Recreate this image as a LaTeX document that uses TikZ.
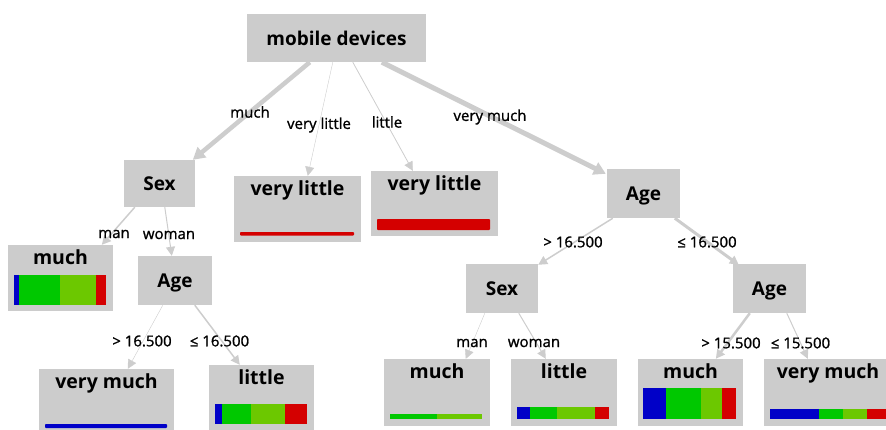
\documentclass[tikz,border=0pt]{standalone}
\usepackage{fontspec}
\setmainfont{Open Sans}
\newfontfamily\lblfont{Open Sans}[FakeBold=1.2]
\usetikzlibrary{arrows.meta,calc}
\definecolor{boxgray}{HTML}{CCCCCC}
\definecolor{edgegray}{HTML}{CDCDCD}
\definecolor{cblue}{HTML}{0000C8}
\definecolor{cgreen}{HTML}{00C800}
\definecolor{clgreen}{HTML}{6CC800}
\definecolor{cred}{HTML}{D40000}
\begin{document}
\begin{tikzpicture}[x=1pt,y=-1pt,
 box/.style={fill=boxgray, draw=none, inner sep=0pt, anchor=center},
 inner/.style={box, font=\fontsize{19}{19}\selectfont\bfseries, text height=14pt, text depth=0pt},
 ttl/.style={anchor=base, inner sep=0pt, font=\fontsize{19.5}{20}\selectfont\bfseries},
 lbl/.style={inner sep=0pt, anchor=center, font=\fontsize{15}{15}\lblfont},
 edge/.style={draw=edgegray, -{Triangle[length=9pt,width=9pt]}},
 bigedge/.style={draw=edgegray, -{Triangle[length=12pt,width=13pt]}},
 barseg/.style={rounded corners=0.8pt},
]
\useasboundingbox (0,0) rectangle (886,429);
\clip (0,0) rectangle (886,429);

% internal nodes
\node[inner, minimum width=179pt, minimum height=48pt] (root) at (336.5,38) {mobile devices};
\node[inner, minimum width=71pt, minimum height=47pt] (sexL) at (159.5,183.5) {Sex};
\node[inner, minimum width=73pt, minimum height=49pt] (ageR) at (643.5,193.5) {Age};
\node[inner, minimum width=74pt, minimum height=49pt] (ageL) at (175,280.5) {Age};
\node[inner, minimum width=72pt, minimum height=49pt] (sexR) at (502,288.5) {Sex};
\node[inner, minimum width=73pt, minimum height=49pt] (ageR2) at (769.5,288.5) {Age};

% leaves
\node[box, minimum width=127pt, minimum height=66pt] (vl1) at (297.5,209) {};
\node[ttl] at ($(vl1.north)+(0,20)$) {very little};
\node[box, minimum width=127pt, minimum height=65pt] (vl2) at (434.5,203.5) {};
\node[ttl] at ($(vl2.north)+(0,19.5)$) {very little};
\node[box, minimum width=105pt, minimum height=66pt] (muchL) at (60.5,278) {};
\node[ttl] at ($(muchL.north)+(0,20)$) {much};
\node[box, minimum width=135pt, minimum height=66pt] (vmL) at (106.5,402) {};
\node[ttl] at ($(vmL.north)+(0,20)$) {very much};
\node[box, minimum width=105pt, minimum height=66pt] (littleL) at (261.5,398) {};
\node[ttl] at ($(littleL.north)+(0,19.5)$) {little};
\node[box, minimum width=106pt, minimum height=67pt] (muchB) at (437,392.5) {};
\node[ttl] at ($(muchB.north)+(0,19.5)$) {much};
\node[box, minimum width=106pt, minimum height=67pt] (littleB) at (564,392.5) {};
\node[ttl] at ($(littleB.north)+(0,19.5)$) {little};
\node[box, minimum width=105pt, minimum height=67pt] (muchR) at (690.5,392.5) {};
\node[ttl] at ($(muchR.north)+(0,19.5)$) {much};
\node[box, minimum width=128pt, minimum height=67pt] (vmR) at (828,392.5) {};
\node[ttl] at ($(vmR.north)+(0,19.5)$) {very much};

% bars
\fill[cred,barseg] (240,232) rectangle (354,235.5);
\fill[cred,barseg] (377,219) rectangle (490,230);
\fill[cblue] (14,275) rectangle (19,305);
\fill[cgreen] (19,275) rectangle (60,305);
\fill[clgreen] (60,275) rectangle (96,305);
\fill[cred] (96,275) rectangle (106,305);
\fill[cblue,barseg] (45,424) rectangle (167,428);
\fill[cblue] (215,404) rectangle (222,424);
\fill[cgreen] (222,404) rectangle (251,424);
\fill[clgreen] (251,404) rectangle (285,424);
\fill[cred] (285,404) rectangle (307,424);
\fill[cgreen] (390,414) rectangle (437,419);
\fill[clgreen] (437,414) rectangle (482,419);
\fill[cblue] (517,407) rectangle (530,419);
\fill[cgreen] (530,407) rectangle (557,419);
\fill[clgreen] (557,407) rectangle (595,419);
\fill[cred] (595,407) rectangle (609,419);
\fill[cblue] (643,388) rectangle (666,419);
\fill[cgreen] (666,388) rectangle (701,419);
\fill[clgreen] (701,388) rectangle (722,419);
\fill[cred] (722,388) rectangle (736,419);
\fill[cblue] (770,409) rectangle (819,419);
\fill[cgreen] (819,409) rectangle (843,419);
\fill[clgreen] (843,409) rectangle (867,419);
\fill[cred] (867,409) rectangle (892,419);

% edges
\draw[bigedge, line width=4.5pt] ($(root.south west)+(63,0)$) -- ($(sexL.north west)+(69,0)$);
\draw[edge, line width=0.4pt] ($(root.south west)+(86,0)$) -- ($(vl1.north west)+(74,0)$);
\draw[edge, line width=0.8pt] ($(root.south west)+(106,0)$) -- ($(vl2.north west)+(42,0)$);
\draw[bigedge, line width=5pt] ($(root.south west)+(135,0)$) -- ($(ageR.north west)+(-1,5)$);
\draw[edge, line width=1.5pt] ($(sexL.south west)+(11,0)$) -- ($(muchL.north west)+(94,0)$);
\draw[edge, line width=1pt] ($(sexL.south west)+(41,0)$) -- ($(ageL.north west)+(34,0)$);
\draw[edge, line width=0.4pt] ($(ageL.south west)+(25,0)$) -- ($(vmL.north west)+(89,0)$);
\draw[edge, line width=1.5pt] ($(ageL.south west)+(57,0)$) -- ($(littleL.north west)+(31,0)$);
\draw[edge, line width=1.5pt] ($(ageR.south west)+(6,0)$) -- ($(sexR.north east)+(0,1)$);
\draw[edge, line width=3pt] ($(ageR.south west)+(68,0)$) -- ($(ageR2.north west)+(6,1)$);
\draw[edge, line width=0.4pt] ($(sexR.south west)+(19,0)$) -- ($(muchB.north west)+(82,0)$);
\draw[edge, line width=1pt] ($(sexR.south west)+(53,0)$) -- ($(littleB.north west)+(35,0)$);
\draw[edge, line width=2.5pt] ($(ageR2.south west)+(17,0)$) -- ($(muchR.north west)+(78,0)$);
\draw[edge, line width=1pt] ($(ageR2.south west)+(54,0)$) -- ($(vmR.north west)+(44,0)$);

% edge labels
\node[lbl] (l1) at (250,112) {much};
\node[lbl] (l2) at (319,125) {very little};
\node[lbl] (l3) at (387,122) {little};
\node[lbl] (l4) at (490,117) {very much};
\node[lbl] (l5) at (114,234) {man};
\node[lbl] (l6) at (169,235) {woman};
\node[lbl] (l7) at (142,341) {> 16.500};
\node[lbl] (l8) at (219.5,341) {≤ 16.500};
\node[lbl] (l9) at (573,242) {> 16.500};
\node[lbl] (l10) at (707,242) {≤ 16.500};
\node[lbl] (l11) at (472,343) {man};
\node[lbl] (l12) at (534,343) {woman};
\node[lbl] (l13) at (731,343) {> 15.500};
\node[lbl] (l14) at (800.5,343) {≤ 15.500};
\end{tikzpicture}
\end{document}
